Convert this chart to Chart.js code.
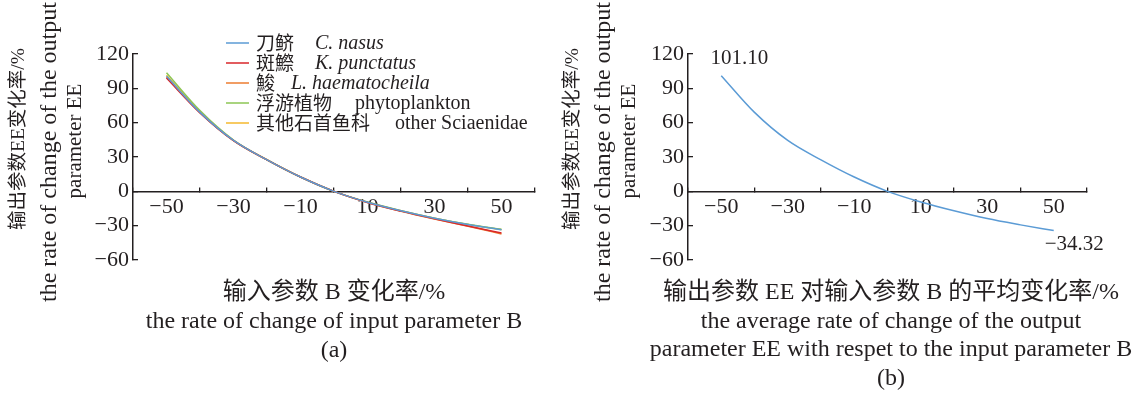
<!DOCTYPE html>
<html>
<head>
<meta charset="utf-8">
<script src="https://cdn.jsdelivr.net/npm/chart.js@4.4.1/dist/chart.umd.min.js"></script>
<style>
    body { margin: 0; background: #fff; width: 1138px; height: 393px; position: relative; overflow: hidden;
           font-family: 'Liberation Serif', 'Noto Sans CJK SC', serif; color: #231f20; }
    #wrapA { position: absolute; left: 0; top: 0; width: 560px; height: 393px; }
    #wrapB { position: absolute; left: 560px; top: 0; width: 578px; height: 393px; }
    .cap { position: absolute; font-size: 24px; text-align: center; white-space: nowrap; transform: translateX(-50%); }
    #capA { left: 334px; top: 277px; line-height: 29px; }
    #capB { left: 891px; top: 277px; line-height: 28.7px; }
    /* rotated y-axis title lines, positioned by their centre */
    .yt { position: absolute; white-space: nowrap; line-height: 1; transform: translate(-50%, -50%) rotate(-90deg); }
    .yt.l1 { top: 139px; font-size: 19.5px; }
    .yt.l2 { top: 152px; font-size: 24px; }
    .yt.l3 { top: 141px; font-size: 21px; }
</style>
</head>
<body>
<div id="wrapA"><canvas id="chartA" width="560" height="393"></canvas></div>
<div id="wrapB"><canvas id="chartB" width="578" height="393"></canvas></div>
<div class="yt l1" style="left:18px">输出参数EE变化率/%</div>
<div class="yt l2" style="left:48px">the rate of change of the output</div>
<div class="yt l3" style="left:74px">parameter EE</div>
<div class="yt l1" style="left:572px">输出参数EE变化率/%</div>
<div class="yt l2" style="left:602px">the rate of change of the output</div>
<div class="yt l3" style="left:628px">parameter EE</div>
<div class="cap" id="capA">输入参数 B 变化率/%<br>the rate of change of input parameter B<br>(a)</div>
<div class="cap" id="capB">输出参数 EE 对输入参数 B 的平均变化率/%<br>the average rate of change of the output<br>parameter EE with respet to the input parameter B<br>(b)</div>
<script>
// Input parameter B change (%)
const changeB = [-50, -40, -30, -20, -10, 0, 10, 20, 30, 40, 50];

// Output EE change (%) per group
const cNasus        = [100.5, 69.0, 44.5, 27.5, 12.5, 0, -9.5, -17.0, -23.5, -29.0, -33.6];
const kPunctatus    = [99.0, 68.5, 44.3, 27.5, 12.5, 0, -9.7, -17.3, -24.0, -30.2, -36.5];
const lHaemato      = [99.8, 68.8, 44.3, 27.5, 12.5, 0, -9.7, -17.4, -24.2, -30.5, -37.2];
const phytoplankton = [103.6, 70.5, 44.8, 27.6, 12.5, 0, -9.4, -16.9, -23.4, -28.8, -33.2];
const sciaenidae    = [101.5, 69.5, 44.6, 27.5, 12.5, 0, -9.5, -17.0, -23.5, -29.0, -33.5];

// Average rate of change of EE
const averageEE = [101.10, 69.0, 44.5, 27.5, 12.5, 0, -9.3, -17.0, -23.8, -29.3, -34.32];

// Legend text
const speciesCn = ['刀鲚', '斑鰶', '鮻', '浮游植物', '其他石首鱼科'];
const speciesLatin = ['C. nasus', 'K. punctatus', 'L. haematocheila', 'phytoplankton', 'other Sciaenidae'];
const speciesItalic = [true, true, true, false, false];

// Axis ticks
const yMin = -60, yMax = 120, yStep = 30;
const xMin = -60, xMax = 60, xStep = 10;

// Colors
const colors = ['#5b9bd5', '#d9262a', '#ed7d31', '#8dc655', '#f5b82e'];
const textColor = '#231f20';
const axisColor = '#231f20';

const toPoints = vals => vals.map((v, i) => ({ x: changeB[i], y: v }));
const minus = v => String(v).replace('-', '\u2212');

// Legend drawn by hand (mixed Chinese / italic Latin)
const legendLatinX = [315, 315, 291, 355, 395];
const speciesLegend = {
    id: 'speciesLegend',
    afterDraw(chart) {
        const ctx = chart.ctx;
        ctx.save();
        chart.data.datasets.forEach((ds, i) => {
            const y = 43 + i * 20;
            ctx.strokeStyle = ds.borderColor;
            ctx.lineWidth = 1.5;
            ctx.beginPath();
            ctx.moveTo(226, y);
            ctx.lineTo(249, y);
            ctx.stroke();
            ctx.fillStyle = textColor;
            ctx.textAlign = 'left';
            ctx.textBaseline = 'middle';
            ctx.font = '19px "Noto Sans CJK SC"';
            ctx.fillText(speciesCn[i], 256, y);
            ctx.font = (speciesItalic[i] ? 'italic ' : '') + '20px "Liberation Serif"';
            ctx.fillText(speciesLatin[i], legendLatinX[i], y + 1);
        });
        ctx.restore();
    }
};

// First / last value labels on chart (b)
const endLabels = {
    id: 'endLabels',
    afterDatasetsDraw(chart) {
        const ctx = chart.ctx;
        const pts = chart.getDatasetMeta(0).data;
        const vals = chart.data.datasets[0].data;
        const first = pts[0], last = pts[pts.length - 1];
        ctx.save();
        ctx.fillStyle = textColor;
        ctx.font = '21px "Liberation Serif"';
        ctx.textBaseline = 'middle';
        ctx.textAlign = 'center';
        ctx.fillText(minus(vals[0].y.toFixed(2)), first.x + 18, first.y - 17);
        ctx.textAlign = 'left';
        ctx.fillText(minus(vals[vals.length - 1].y.toFixed(2)), last.x - 9, last.y + 14);
        ctx.restore();
    }
};

function buildOptions(axisWidth, padRight) {
    const tickFont = { family: 'Liberation Serif', size: 22 };
    return {
        responsive: false,
        animation: false,
        layout: { padding: { left: 0, right: padRight, top: 54, bottom: 133 } },
        plugins: { legend: { display: false }, tooltip: { enabled: false } },
        elements: {
            point: { radius: 0 },
            line: { borderWidth: 1.5, cubicInterpolationMode: 'monotone' }
        },
        scales: {
            x: {
                type: 'linear',
                min: xMin,
                max: xMax,
                position: { y: 0 },
                afterFit: s => { s.height = 0; },
                ticks: {
                    stepSize: xStep,
                    autoSkip: false,
                    maxRotation: 0,
                    padding: 8,
                    color: textColor,
                    font: tickFont,
                    callback: v => (Math.abs(v) % 20 === 10 ? minus(v) : '')
                },
                grid: {
                    drawOnChartArea: false,
                    tickLength: -5,
                    lineWidth: 1.3,
                    color: c => (c.tick && c.tick.value % 20 === 0 ? axisColor : 'rgba(0,0,0,0)')
                },
                border: { color: axisColor, width: 1.5 }
            },
            y: {
                min: yMin,
                max: yMax,
                afterFit: s => { s.width = axisWidth; },
                ticks: {
                    stepSize: yStep,
                    padding: 9,
                    color: textColor,
                    font: tickFont,
                    callback: v => minus(v)
                },
                grid: { drawOnChartArea: false, tickLength: -5, lineWidth: 1.3, color: axisColor },
                border: { color: axisColor, width: 1.5 }
            }
        }
    };
}

const groupSeries = [cNasus, kPunctatus, lHaemato, phytoplankton, sciaenidae];

new Chart(document.getElementById('chartA'), {
    type: 'line',
    data: {
        datasets: groupSeries.map((vals, i) => ({
            label: speciesLatin[i],
            data: toPoints(vals),
            borderColor: colors[i],
            backgroundColor: colors[i],
            fill: false
        }))
    },
    options: buildOptions(133, 25),
    plugins: [speciesLegend]
});

new Chart(document.getElementById('chartB'), {
    type: 'line',
    data: {
        datasets: [{
            label: 'average',
            data: toPoints(averageEE),
            borderColor: colors[0],
            backgroundColor: colors[0],
            fill: false
        }]
    },
    options: buildOptions(128, 51),
    plugins: [endLabels]
});
</script>
</body>
</html>
